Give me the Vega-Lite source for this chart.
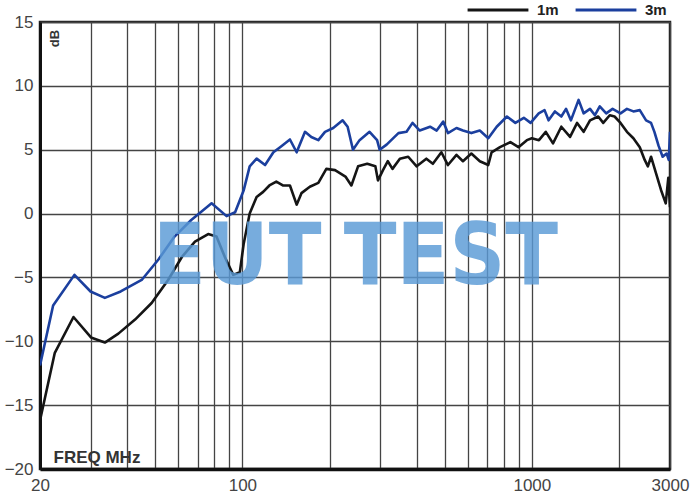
{
  "$schema": "https://vega.github.io/schema/vega-lite/v6.json",
  "width": 630,
  "height": 447,
  "autosize": {"type": "none"},
  "padding": {"left": 40, "top": 22, "right": 26, "bottom": 34},
  "background": "white",
  "config": {
    "view": {"stroke": "#222222", "strokeWidth": 2.5},
    "font": "Liberation Sans"
  },
  "layer": [
    {
      "data": {
        "values": [
          {"f": 20, "db": -16.2, "d": "1m"}, {"f": 22.5, "db": -10.9, "d": "1m"}, {"f": 26.1, "db": -8.1, "d": "1m"},
          {"f": 30, "db": -9.7, "d": "1m"}, {"f": 33.5, "db": -10.1, "d": "1m"}, {"f": 37.3, "db": -9.4, "d": "1m"},
          {"f": 42.6, "db": -8.3, "d": "1m"}, {"f": 48.6, "db": -7.0, "d": "1m"}, {"f": 55.4, "db": -5.2, "d": "1m"},
          {"f": 61.8, "db": -3.4, "d": "1m"}, {"f": 68.6, "db": -2.2, "d": "1m"}, {"f": 76.2, "db": -1.6, "d": "1m"},
          {"f": 81.4, "db": -1.8, "d": "1m"}, {"f": 87, "db": -3.4, "d": "1m"}, {"f": 93, "db": -4.8, "d": "1m"},
          {"f": 98, "db": -4.6, "d": "1m"}, {"f": 101, "db": -2.4, "d": "1m"}, {"f": 106, "db": 0.0, "d": "1m"},
          {"f": 112, "db": 1.3, "d": "1m"}, {"f": 118, "db": 1.7, "d": "1m"}, {"f": 124, "db": 2.2, "d": "1m"},
          {"f": 131, "db": 2.5, "d": "1m"}, {"f": 138, "db": 2.2, "d": "1m"}, {"f": 146, "db": 2.2, "d": "1m"},
          {"f": 154, "db": 0.7, "d": "1m"}, {"f": 160, "db": 1.6, "d": "1m"}, {"f": 171, "db": 2.1, "d": "1m"},
          {"f": 183, "db": 2.4, "d": "1m"}, {"f": 195, "db": 3.5, "d": "1m"}, {"f": 209, "db": 3.4, "d": "1m"},
          {"f": 227, "db": 2.9, "d": "1m"}, {"f": 238, "db": 2.2, "d": "1m"}, {"f": 251, "db": 3.7, "d": "1m"},
          {"f": 270, "db": 3.9, "d": "1m"}, {"f": 288, "db": 3.7, "d": "1m"}, {"f": 294, "db": 2.6, "d": "1m"},
          {"f": 306, "db": 3.4, "d": "1m"}, {"f": 318, "db": 4.1, "d": "1m"}, {"f": 330, "db": 3.5, "d": "1m"},
          {"f": 350, "db": 4.3, "d": "1m"}, {"f": 374, "db": 4.45, "d": "1m"}, {"f": 400, "db": 3.7, "d": "1m"},
          {"f": 432, "db": 4.3, "d": "1m"}, {"f": 455, "db": 3.9, "d": "1m"}, {"f": 487, "db": 4.8, "d": "1m"},
          {"f": 513, "db": 3.8, "d": "1m"}, {"f": 549, "db": 4.6, "d": "1m"}, {"f": 578, "db": 4.1, "d": "1m"},
          {"f": 618, "db": 4.7, "d": "1m"}, {"f": 661, "db": 4.1, "d": "1m"}, {"f": 707, "db": 3.8, "d": "1m"},
          {"f": 726, "db": 4.8, "d": "1m"}, {"f": 776, "db": 5.2, "d": "1m"}, {"f": 843, "db": 5.6, "d": "1m"},
          {"f": 899, "db": 5.2, "d": "1m"}, {"f": 961, "db": 5.75, "d": "1m"}, {"f": 1000, "db": 5.9, "d": "1m"},
          {"f": 1058, "db": 5.75, "d": "1m"}, {"f": 1117, "db": 6.4, "d": "1m"}, {"f": 1183, "db": 5.5, "d": "1m"},
          {"f": 1264, "db": 6.8, "d": "1m"}, {"f": 1355, "db": 6.0, "d": "1m"}, {"f": 1433, "db": 7.1, "d": "1m"},
          {"f": 1509, "db": 6.4, "d": "1m"}, {"f": 1588, "db": 7.3, "d": "1m"}, {"f": 1695, "db": 7.6, "d": "1m"},
          {"f": 1764, "db": 7.1, "d": "1m"}, {"f": 1858, "db": 7.7, "d": "1m"}, {"f": 1930, "db": 7.6, "d": "1m"},
          {"f": 2024, "db": 7.1, "d": "1m"}, {"f": 2130, "db": 6.4, "d": "1m"}, {"f": 2242, "db": 5.9, "d": "1m"},
          {"f": 2359, "db": 5.2, "d": "1m"}, {"f": 2453, "db": 4.2, "d": "1m"}, {"f": 2516, "db": 3.7, "d": "1m"},
          {"f": 2580, "db": 4.45, "d": "1m"}, {"f": 2685, "db": 3.15, "d": "1m"}, {"f": 2793, "db": 1.85, "d": "1m"},
          {"f": 2900, "db": 0.8, "d": "1m"}, {"f": 2960, "db": 2.8, "d": "1m"}, {"f": 3000, "db": 0.5, "d": "1m"},

          {"f": 20, "db": -11.9, "d": "3m"}, {"f": 22.2, "db": -7.2, "d": "3m"}, {"f": 26.3, "db": -4.8, "d": "3m"},
          {"f": 29.9, "db": -6.1, "d": "3m"}, {"f": 33.5, "db": -6.6, "d": "3m"}, {"f": 38, "db": -6.1, "d": "3m"},
          {"f": 44.9, "db": -5.2, "d": "3m"}, {"f": 51.3, "db": -3.6, "d": "3m"}, {"f": 58.3, "db": -1.8, "d": "3m"},
          {"f": 66.6, "db": -0.5, "d": "3m"}, {"f": 78.3, "db": 0.8, "d": "3m"}, {"f": 88.2, "db": -0.2, "d": "3m"},
          {"f": 94.4, "db": 0.1, "d": "3m"}, {"f": 101, "db": 1.8, "d": "3m"}, {"f": 106, "db": 3.7, "d": "3m"},
          {"f": 112, "db": 4.3, "d": "3m"}, {"f": 119.8, "db": 3.8, "d": "3m"}, {"f": 128, "db": 4.8, "d": "3m"},
          {"f": 135, "db": 5.2, "d": "3m"}, {"f": 146, "db": 5.8, "d": "3m"}, {"f": 154, "db": 4.8, "d": "3m"},
          {"f": 164.6, "db": 6.4, "d": "3m"}, {"f": 173, "db": 6.0, "d": "3m"}, {"f": 183, "db": 5.75, "d": "3m"},
          {"f": 193, "db": 6.4, "d": "3m"}, {"f": 206, "db": 6.7, "d": "3m"}, {"f": 222, "db": 7.3, "d": "3m"},
          {"f": 231, "db": 6.8, "d": "3m"}, {"f": 241, "db": 5.0, "d": "3m"}, {"f": 254, "db": 5.75, "d": "3m"},
          {"f": 275, "db": 6.4, "d": "3m"}, {"f": 292, "db": 5.75, "d": "3m"}, {"f": 298, "db": 5.0, "d": "3m"},
          {"f": 315, "db": 5.4, "d": "3m"}, {"f": 346, "db": 6.3, "d": "3m"}, {"f": 369, "db": 6.4, "d": "3m"},
          {"f": 387, "db": 7.1, "d": "3m"}, {"f": 410, "db": 6.5, "d": "3m"}, {"f": 445, "db": 6.8, "d": "3m"},
          {"f": 469, "db": 6.5, "d": "3m"}, {"f": 494, "db": 7.2, "d": "3m"}, {"f": 513, "db": 6.3, "d": "3m"},
          {"f": 549, "db": 6.7, "d": "3m"}, {"f": 578, "db": 6.5, "d": "3m"}, {"f": 618, "db": 6.3, "d": "3m"},
          {"f": 661, "db": 6.5, "d": "3m"}, {"f": 707, "db": 5.9, "d": "3m"}, {"f": 756, "db": 6.8, "d": "3m"},
          {"f": 820, "db": 7.6, "d": "3m"}, {"f": 877, "db": 7.1, "d": "3m"}, {"f": 938, "db": 7.5, "d": "3m"},
          {"f": 990, "db": 7.1, "d": "3m"}, {"f": 1056, "db": 7.85, "d": "3m"}, {"f": 1106, "db": 8.1, "d": "3m"},
          {"f": 1142, "db": 7.3, "d": "3m"}, {"f": 1201, "db": 8.0, "d": "3m"}, {"f": 1264, "db": 7.6, "d": "3m"},
          {"f": 1312, "db": 8.2, "d": "3m"}, {"f": 1364, "db": 7.3, "d": "3m"}, {"f": 1450, "db": 8.9, "d": "3m"},
          {"f": 1509, "db": 7.85, "d": "3m"}, {"f": 1588, "db": 8.2, "d": "3m"}, {"f": 1651, "db": 7.7, "d": "3m"},
          {"f": 1716, "db": 8.4, "d": "3m"}, {"f": 1806, "db": 7.85, "d": "3m"}, {"f": 1900, "db": 8.2, "d": "3m"},
          {"f": 2024, "db": 7.85, "d": "3m"}, {"f": 2130, "db": 8.2, "d": "3m"}, {"f": 2242, "db": 8.0, "d": "3m"},
          {"f": 2359, "db": 8.1, "d": "3m"}, {"f": 2480, "db": 7.3, "d": "3m"}, {"f": 2580, "db": 7.1, "d": "3m"},
          {"f": 2650, "db": 6.4, "d": "3m"}, {"f": 2740, "db": 5.3, "d": "3m"}, {"f": 2830, "db": 4.45, "d": "3m"},
          {"f": 2920, "db": 4.7, "d": "3m"}, {"f": 2970, "db": 4.2, "d": "3m"}, {"f": 3000, "db": 6.4, "d": "3m"}
        ]
      },
      "mark": {"type": "line", "strokeWidth": 2.6, "strokeJoin": "round", "clip": true},
      "encoding": {
        "x": {
          "field": "f",
          "type": "quantitative",
          "scale": {"type": "log", "domain": [20, 3000], "nice": false},
          "axis": {
            "values": [20, 30, 40, 50, 60, 70, 80, 90, 100, 200, 300, 400, 500, 600, 700, 800, 900, 1000, 2000, 3000],
            "labelExpr": "(datum.value == 20 || datum.value == 100 || datum.value == 1000 || datum.value == 3000) ? datum.value : ''",
            "labelFlush": false,
            "labelOverlap": false,
            "labelBound": false,
            "labelFontSize": 17,
            "labelColor": "#444444",
            "labelPadding": 8,
            "ticks": false,
            "grid": true,
            "gridColor": "#444444",
            "gridWidth": 1.3,
            "gridOpacity": 1,
            "domainColor": "#111111",
            "domainWidth": 3.5,
            "title": "FREQ MHz",
            "titleFontSize": 17,
            "titleFontWeight": "bold",
            "titleColor": "#333333",
            "titleAnchor": "start",
            "titleAlign": "left",
            "titleBaseline": "alphabetic",
            "titleX": 13,
            "titleY": -7
          }
        },
        "y": {
          "field": "db",
          "type": "quantitative",
          "scale": {"domain": [-20, 15], "nice": false, "zero": false},
          "axis": {
            "values": [-20, -15, -10, -5, 0, 5, 10, 15],
            "labelFontSize": 17,
            "labelColor": "#444444",
            "labelPadding": 7,
            "ticks": false,
            "grid": true,
            "gridColor": "#444444",
            "gridWidth": 1.3,
            "gridOpacity": 1,
            "domainColor": "#111111",
            "domainWidth": 3,
            "title": "dB",
            "titleFontSize": 13,
            "titleFontWeight": "bold",
            "titleColor": "#333333",
            "titleAngle": -90,
            "titleAlign": "center",
            "titleBaseline": "middle",
            "titleX": 14,
            "titleY": 16
          }
        },
        "color": {
          "field": "d",
          "type": "nominal",
          "scale": {"domain": ["1m", "3m"], "range": ["#151515", "#1b3f9e"]},
          "legend": {
            "orient": "none",
            "legendX": 426,
            "legendY": -44,
            "direction": "horizontal",
            "title": null,
            "symbolType": "stroke",
            "symbolSize": 3700,
            "symbolStrokeWidth": 3,
            "labelFontSize": 15,
            "labelFontWeight": "bold",
            "labelColor": "#222222",
            "labelOffset": 7,
            "columnPadding": 10
          }
        }
      }
    },
    {
      "data": {"values": [{"t": "EUT"}]},
      "mark": {"type": "text", "font": "DejaVu Sans Condensed", "fontWeight": "bold", "fontSize": 86, "fill": "#5a9ad6", "opacity": 0.82, "align": "center", "baseline": "alphabetic"},
      "encoding": {
        "x": {"datum": 96},
        "y": {"datum": -5.5},
        "text": {"field": "t"}
      }
    },
    {
      "data": {"values": [{"t": "TEST"}]},
      "mark": {"type": "text", "font": "DejaVu Sans Condensed", "fontWeight": "bold", "fontSize": 86, "fill": "#5a9ad6", "opacity": 0.82, "align": "center", "baseline": "alphabetic"},
      "encoding": {
        "x": {"datum": 525},
        "y": {"datum": -5.5},
        "text": {"field": "t"}
      }
    }
  ]
}
